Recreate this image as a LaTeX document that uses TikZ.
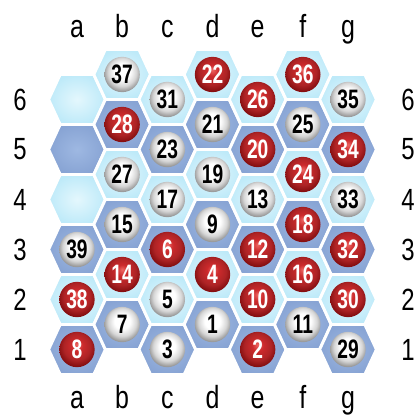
\documentclass[tikz,border=0pt]{standalone}
\usepackage{fontspec}
\setmainfont{Liberation Sans}
\newfontfamily\boardfont{Liberation Sans}[FakeStretch=0.78]
\newfontfamily\ballfont{Liberation Sans}[FakeStretch=0.72]
\usetikzlibrary{positioning}

\definecolor{hexlt}{RGB}{190,234,249}
\definecolor{hexltin}{RGB}{228,247,253}
\definecolor{hexdk}{RGB}{136,164,212}
\definecolor{hexdkin}{RGB}{158,184,226}
\definecolor{redhi}{RGB}{238,104,100}
\definecolor{redmid}{RGB}{204,42,44}
\definecolor{redlo}{RGB}{132,14,16}

\pgfdeclareradialshading{redballshade}{\pgfpoint{0bp}{7bp}}{color(0bp)=(redhi); color(8bp)=(redmid); color(19bp)=(redmid!85!black); color(27bp)=(redlo); color(32bp)=(redmid!70!black); color(50bp)=(redmid!70!black)}
\pgfdeclareradialshading{whiteballshade}{\pgfpoint{0bp}{6bp}}{color(0bp)=(white); color(11bp)=(white); color(20bp)=(black!16); color(27bp)=(black!42); color(31bp)=(black!30); color(50bp)=(black!30)}

% one board cell, centred on a named coordinate
\newcommand{\hexcell}[2]{\shadedraw[#1] (#2) ++(-28.4,0) -- ++(11.6,-25) -- ++(33.6,0) -- ++(11.6,25) -- ++(-11.6,25) -- ++(-33.6,0) -- cycle;}

\begin{document}
\begin{tikzpicture}[x=0.75pt, y=-0.75pt,
  hexlight/.style={draw=white, line width=2.2pt, inner color=hexltin, outer color=hexlt},
  hexdark/.style={draw=white, line width=2.2pt, inner color=hexdkin, outer color=hexdk},
  boardlbl/.style={font=\boardfont\fontsize{24}{24}\selectfont, inner sep=0pt},
  rowlbl/.style={font=\boardfont\fontsize{23}{23}\selectfont, inner sep=0pt},
  ballbase/.style={circle, minimum size=26.5pt, inner sep=0pt, shade,
    font=\ballfont\bfseries\fontsize{20}{20}\selectfont},
  whiteball/.style={ballbase, shading=whiteballshade, text=black},
  redball/.style={ballbase, shading=redballshade, text=white}]
\useasboundingbox (0,0) rectangle (417,414);

% Cells and column letters
\foreach \col [count=\i from 0] in {a,...,g} {
  \pgfmathsetmacro\hx{77+45.17*\i}
  \pgfmathsetmacro\hoff{mod(\i,2)*25}
  \foreach \r in {1,...,6} {
    \pgfmathsetmacro\hy{349.5-50*(\r-1)-\hoff}
    \coordinate (\col\r) at (\hx,\hy);
    \ifodd\r \hexcell{hexdark}{\col\r} \else \hexcell{hexlight}{\col\r} \fi
  }
  \node[boardlbl, anchor=base] (top\col) at (\hx,37) {\col};
  \node[boardlbl, anchor=base] (bot\col) at (\hx,408) {\col};
}

% Row numbers
\foreach \r in {1,...,6} {
  \pgfmathsetmacro\ry{349.5-50*(\r-1)}
  \node[rowlbl] (left\r) at (20,\ry) {\r};
  \node[rowlbl] (right\r) at (408,\ry) {\r};
}

% Balls: odd white, even red
\foreach \cell/\n in {a3/39, a2/38, a1/8,
    b6/37, b5/28, b4/27, b3/15, b2/14, b1/7,
    c6/31, c5/23, c4/17, c3/6, c2/5, c1/3,
    d6/22, d5/21, d4/19, d3/9, d2/4, d1/1,
    e6/26, e5/20, e4/13, e3/12, e2/10, e1/2,
    f6/36, f5/25, f4/24, f3/18, f2/16, f1/11,
    g6/35, g5/34, g4/33, g3/32, g2/30, g1/29} {
  \ifodd\n \node[whiteball] (ball\n) at (\cell) {\n};
  \else \node[redball] (ball\n) at (\cell) {\n}; \fi
}
\end{tikzpicture}
\end{document}
